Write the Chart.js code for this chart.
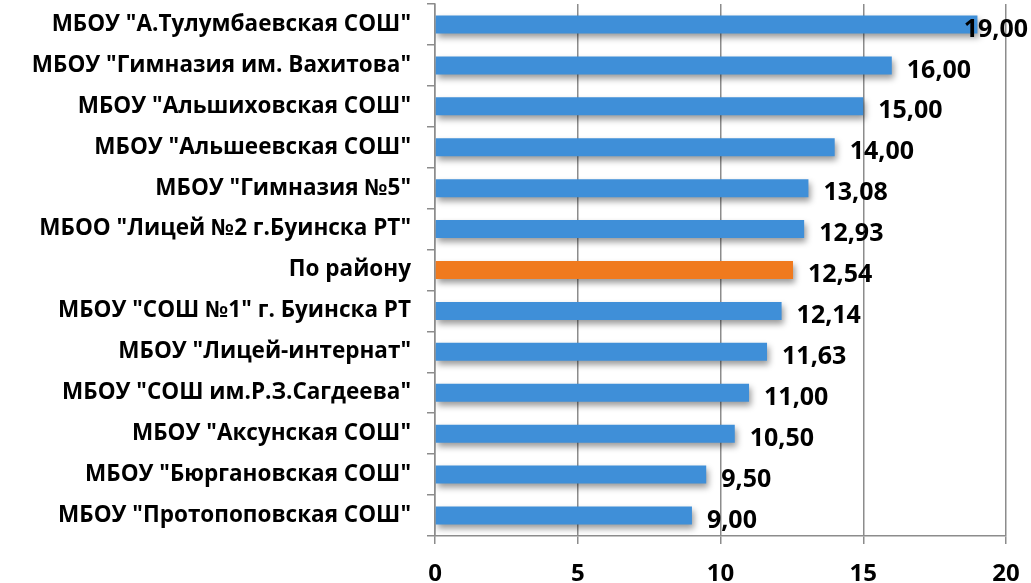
<!DOCTYPE html>
<html><head><meta charset="utf-8">
<script src="https://cdn.jsdelivr.net/npm/chart.js@4.4.1/dist/chart.umd.min.js"></script>
<style>html,body{margin:0;padding:0;background:#fff}#wrap{width:1031px;height:583px;position:relative}</style>
</head><body><div id="wrap"><canvas id="c" width="1031" height="583"></canvas></div>
<script>
const categories = ['МБОУ "А.Тулумбаевская СОШ"','МБОУ "Гимназия им. Вахитова"','МБОУ "Альшиховская СОШ"','МБОУ "Альшеевская СОШ"','МБОУ "Гимназия №5"','МБОО "Лицей №2 г.Буинска РТ"','По району','МБОУ "СОШ №1" г. Буинска РТ','МБОУ "Лицей-интернат"','МБОУ "СОШ им.Р.З.Сагдеева"','МБОУ "Аксунская СОШ"','МБОУ "Бюргановская СОШ"','МБОУ "Протопоповская СОШ"'];
const values = [19.00,16.00,15.00,14.00,13.08,12.93,12.54,12.14,11.63,11.00,10.50,9.50,9.00];
const highlight = 'По району';
const xTicks = [0,5,10,15,20];
const FONT = '"Open Sans", "DejaVu Sans", sans-serif';

function barFill(ctx){
  const chart = ctx.chart; const el = ctx.element;
  const orange = categories[ctx.dataIndex] === highlight;
  if(!el || el.y === undefined) return orange ? '#f07a1e' : '#3f8fd8';
  const h = el.height || 17;
  const g = chart.ctx.createLinearGradient(0, el.y - h/2, 0, el.y + h/2);
  if(orange){ g.addColorStop(0,'#ff8a2a'); g.addColorStop(0.5,'#f07a1e'); g.addColorStop(1,'#cf5e10'); }
  else { g.addColorStop(0,'#4d9fe6'); g.addColorStop(0.5,'#3f8fd8'); g.addColorStop(1,'#2f6fb2'); }
  return g;
}

const shadowPlugin = {
  id:'shadow',
  beforeDatasetsDraw(chart){ const c=chart.ctx; c.save(); c.shadowColor='rgba(0,0,0,0.4)'; c.shadowBlur=6; c.shadowOffsetX=2; c.shadowOffsetY=4; },
  afterDatasetsDraw(chart){ chart.ctx.restore(); }
};
const labelPlugin = {
  id:'vals',
  afterDatasetsDraw(chart){
    const c = chart.ctx; const meta = chart.getDatasetMeta(0);
    c.save(); c.font = 'bold 25px ' + FONT; c.fillStyle='#000'; c.textBaseline='middle'; c.textAlign='left';
    meta.data.forEach((b,i)=>{
      const t = values[i].toFixed(2).replace('.',',');
      const w = c.measureText(t).width;
      let x = b.x + 15;
      if(x + w > chart.width - 3) x = chart.width - 3 - w;
      c.fillText(t, x, b.y + 5);
    });
    c.restore();
  }
};

new Chart(document.getElementById('c'), {
  type:'bar',
  data:{ labels: categories, datasets:[{ data: values, backgroundColor: barFill, borderWidth:0, barPercentage:0.44, categoryPercentage:1 }]},
  options:{
    indexAxis:'y', responsive:false, animation:false,
    layout:{ padding:{ top:4, right:25, left:0, bottom:0 } },
    plugins:{ legend:{display:false}, tooltip:{enabled:false} },
    scales:{
      x:{ min:0, max:20, afterBuildTicks(s){ s.ticks = xTicks.map(v=>({value:v})); },
        grid:{ color:'#8c8c8c', lineWidth:1.5, tickLength:8 },
        border:{ color:'#8c8c8c', width:1.5 },
        ticks:{ color:'#000', font:{ family:FONT, size:24, weight:'bold' }, padding:16 },
        afterFit(s){ s.height = 47; s.paddingLeft = 0; s.paddingRight = 0; } },
      y:{ grid:{ offset:true, drawOnChartArea:false, color:'#8c8c8c', lineWidth:1.5, tickLength:8 },
        border:{ color:'#8c8c8c', width:1.5 },
        ticks:{ color:'#000', font:{ family:FONT, size:22.5, weight:'bold' }, padding:16 },
        afterFit(s){ s.width = 435; s.paddingTop = 0; s.paddingBottom = 0; } }
    }
  },
  plugins:[shadowPlugin, labelPlugin]
});
</script></body></html>
